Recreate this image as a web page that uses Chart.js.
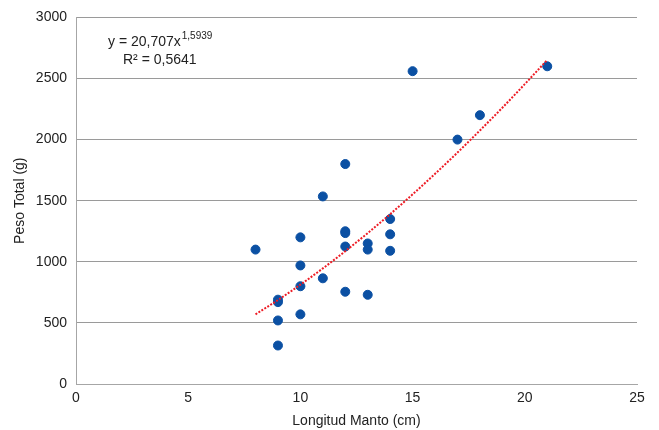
<!DOCTYPE html>
<html>
<head>
<meta charset="utf-8">
<script src="https://cdn.jsdelivr.net/npm/chart.js@4.4.1/dist/chart.umd.min.js"></script>
<style>
  html, body { margin: 0; padding: 0; background: #ffffff; }
  #wrap { width: 659px; height: 430px; }
</style>
</head>
<body>
<div id="wrap"><canvas id="scatterChart"></canvas></div>
<script>
// longitud del manto (cm) y peso total (g)
const longitud = [8, 9, 9, 9, 9, 10, 10, 10, 10, 11, 11, 12, 12, 12, 12, 12, 13, 13, 13, 14, 14, 14, 15, 17, 18, 21];
const peso = [1100, 690, 670, 520, 315, 1200, 970, 800, 570, 1535, 865, 1800, 1250, 1235, 1125, 755, 1150, 1100, 730, 1350, 1225, 1090, 2560, 2000, 2200, 2600];

// curva potencial
const trendX = [8, 9, 10, 11, 12, 13, 14, 15, 16, 17, 18, 19, 20, 21];
const trendY = [570, 687, 813, 946, 1087, 1235, 1390, 1552, 1720, 1894, 2075, 2261, 2454, 2652];

const xTicks = [0, 5, 10, 15, 20, 25];
const yTicks = [0, 500, 1000, 1500, 2000, 2500, 3000];

const fuente = "'Liberation Sans', Arial, sans-serif";

// texto de la ecuación
const ecuacion = {
  id: "ecuacion",
  afterDraw(chart) {
    const c = chart.ctx;
    const a = chart.chartArea;
    c.save();
    c.fillStyle = "#222222";
    c.textBaseline = "alphabetic";
    c.font = "14px " + fuente;
    const x0 = a.left + 32;
    const y0 = a.top + 29;
    const t1 = "y = 20,707x";
    c.fillText(t1, x0, y0);
    const w = c.measureText(t1).width;
    c.font = "10px " + fuente;
    c.fillText("1,5939", x0 + w + 1, y0 - 7);
    c.font = "14px " + fuente;
    c.fillText("R² = 0,5641", x0 + 15, y0 + 18);
    c.restore();
  },
};

new Chart(document.getElementById("scatterChart"), {
  type: "scatter",
  data: {
    datasets: [
      {
        label: "Peso",
        data: longitud.map((x, i) => ({ x: x, y: peso[i] })),
        backgroundColor: "#0b50a3",
        borderColor: "#0b50a3",
        pointRadius: 4.5,
        pointHoverRadius: 4.5,
        order: 2,
      },
      {
        label: "Potencial",
        type: "line",
        data: trendX.map((x, i) => ({ x: x, y: trendY[i] })),
        borderColor: "#ee1c25",
        borderWidth: 2,
        borderDash: [2, 1.5],
        pointRadius: 0,
        fill: false,
        cubicInterpolationMode: "monotone",
        order: 1,
      },
    ],
  },
  options: {
    responsive: true,
    maintainAspectRatio: false,
    animation: false,
    layout: {
      padding: { left: 12, right: 22, top: 10, bottom: 0 },
    },
    plugins: {
      legend: { display: false },
      tooltip: { enabled: false },
    },
    scales: {
      x: {
        type: "linear",
        min: 0,
        max: 25,
        afterBuildTicks: (s) => { s.ticks = xTicks.map((v) => ({ value: v })); },
        afterFit: (s) => { s.height = 46; },
        grid: { display: false, drawTicks: false },
        border: { display: true, color: "#a6a6a6", width: 1 },
        ticks: {
          color: "#222222",
          padding: 6,
          callback: (v) => String(v),
          font: { family: fuente, size: 14 },
        },
        title: {
          display: true,
          text: "Longitud Manto (cm)",
          color: "#222222",
          padding: { top: 5, bottom: 0 },
          font: { family: fuente, size: 14 },
        },
      },
      y: {
        min: 0,
        max: 3000,
        afterBuildTicks: (s) => { s.ticks = yTicks.map((v) => ({ value: v })); },
        afterFit: (s) => { s.width = 64; },
        grid: { color: "#9a9a9a", lineWidth: 1, drawTicks: false },
        border: { display: true, color: "#a6a6a6", width: 1 },
        ticks: {
          color: "#222222",
          padding: 9,
          callback: (v) => String(v),
          font: { family: fuente, size: 14 },
        },
        title: {
          display: true,
          text: "Peso Total (g)",
          color: "#222222",
          padding: { top: 0, bottom: 4 },
          font: { family: fuente, size: 14 },
        },
      },
    },
  },
  plugins: [ecuacion],
});
</script>
</body>
</html>
